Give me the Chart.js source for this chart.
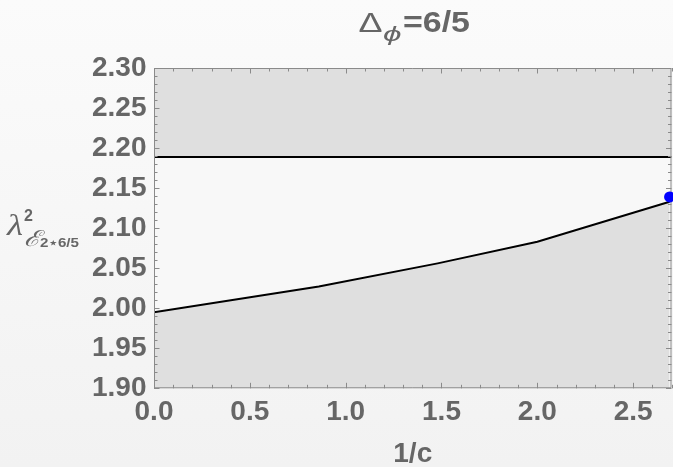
<!DOCTYPE html>
<html><head><meta charset="utf-8">
<script src="https://cdn.jsdelivr.net/npm/chart.js@4"></script>
<style>
html,body{margin:0;padding:0;width:673px;height:467px;overflow:hidden;background:linear-gradient(#fbfbfb,#f2f2f2)}
canvas{display:block}
</style></head><body>
<canvas id="c" width="673" height="467"></canvas>
<script>
// ---- data ----
const xValues = [0, 0.86, 1.48, 2.0, 2.69];
const curveValues = [1.995, 2.027, 2.056, 2.083, 2.133];
const boundX = [0, 2.7];
const boundValue = [2.189, 2.189];
const pointX = [2.69];
const pointY = [2.139];
const xTicks = [0, 0.5, 1.0, 1.5, 2.0, 2.5];
const yTicks = [1.90, 1.95, 2.00, 2.05, 2.10, 2.15, 2.20, 2.25, 2.30];
const xMin = 0, xMax = 2.7, yMin = 1.90, yMax = 2.30;
const titleMain = 'Δ', titleSub = 'ϕ', titleRest = '=6/5';
const yLabelMain = 'λ', yLabelSup = '2', yLabelSub = 'ℰ', yLabelSubSub = '2⋆6/5';
const xLabel = '1/c';

const GRAY = '#666666';
const FILL = '#dfdfdf';
const SANS = "'Liberation Sans','DejaVu Sans',Arial,sans-serif";
const SERIF = "'Liberation Serif','DejaVu Serif',serif";

function drawScaled(ctx, text, font, x, y, targetW) {
  ctx.save();
  ctx.font = font;
  const w = ctx.measureText(text).width;
  const sx = targetW ? targetW / w : 1;
  ctx.translate(x, y);
  ctx.scale(sx, 1);
  ctx.fillText(text, 0, 0);
  ctx.restore();
}

const decor = {
  id: 'decor',
  beforeDraw(chart) {
    const {ctx, chartArea: a} = chart;
    ctx.save();
    ctx.fillStyle = '#f8f8f8';
    ctx.fillRect(a.left, a.top, a.right - a.left, a.bottom - a.top);
    ctx.restore();
  },
  beforeDatasetDraw(chart, args) {
    if (args.index !== 0) return;
    const {ctx, chartArea: a, scales: {x, y}} = chart;
    ctx.save();
    ctx.strokeStyle = '#8a8a8a';
    ctx.lineWidth = 1;
    ctx.beginPath();
    ctx.rect(a.left + 0.5, a.top + 0.5, a.right - a.left - 1, a.bottom - a.top - 1);
    ctx.stroke();
    ctx.beginPath();
    for (let i = 0; i <= 27; i++) {
      const v = i / 10;
      const px = Math.round(x.getPixelForValue(v)) + 0.5;
      const len = (i % 5 === 0) ? 5.5 : 3.5;
      ctx.moveTo(px, a.bottom); ctx.lineTo(px, a.bottom - len);
      ctx.moveTo(px, a.top); ctx.lineTo(px, a.top + len);
    }
    for (let i = 0; i <= 40; i++) {
      const v = yMin + i / 100;
      const py = Math.round(y.getPixelForValue(v)) + 0.5;
      const len = (i % 5 === 0) ? 5.5 : 3.5;
      ctx.moveTo(a.left, py); ctx.lineTo(a.left + len, py);
      ctx.moveTo(a.right, py); ctx.lineTo(a.right - len, py);
    }
    ctx.stroke();
    ctx.restore();
  },
  afterDraw(chart) {
    const {ctx} = chart;
    ctx.save();
    ctx.fillStyle = GRAY;
    ctx.textBaseline = 'alphabetic';
    ctx.textAlign = 'left';
    drawScaled(ctx, titleMain, '28px ' + SANS, 358.5, 31.7, 24);
    drawScaled(ctx, titleSub, 'italic 21px ' + SANS, 383, 41, 18.5);
    drawScaled(ctx, titleRest, 'bold 29px ' + SANS, 403, 31.7, 67);
    drawScaled(ctx, yLabelMain, 'italic 30px ' + SERIF, 7, 235, 16);
    drawScaled(ctx, yLabelSup, 'bold 16px ' + SANS, 24, 221);
    drawScaled(ctx, yLabelSub, 'italic 22px ' + SERIF, 23.5, 245.5, 16);
    drawScaled(ctx, yLabelSubSub, 'bold 13px ' + SANS, 40, 246.5, 39);
    ctx.restore();
  }
};

new Chart(document.getElementById('c'), {
  type: 'scatter',
  data: {
    datasets: [
      {
        label: 'point',
        data: pointX.map((v, i) => ({x: v, y: pointY[i]})),
        backgroundColor: '#0000ff',
        borderColor: '#0000ff',
        pointRadius: 5.5,
        pointBorderWidth: 0,
        clip: false
      },
      {
        label: 'curve',
        data: xValues.map((v, i) => ({x: v, y: curveValues[i]})),
        showLine: true,
        borderColor: '#000000',
        borderWidth: 2,
        pointRadius: 0,
        fill: 'start',
        backgroundColor: FILL,
        tension: 0
      },
      {
        label: 'bound',
        data: boundX.map((v, i) => ({x: v, y: boundValue[i]})),
        showLine: true,
        borderColor: '#000000',
        borderWidth: 2,
        pointRadius: 0,
        fill: 'end',
        backgroundColor: FILL
      }
    ]
  },
  options: {
    responsive: false,
    animation: false,
    devicePixelRatio: 1,
    layout: {autoPadding: false, padding: {top: 68, right: 1.5, bottom: 0, left: 0}},
    plugins: {legend: {display: false}, tooltip: {enabled: false}, title: {display: false}},
    scales: {
      x: {
        type: 'linear',
        min: xMin, max: xMax,
        afterBuildTicks: s => { s.ticks = xTicks.map(v => ({value: v})); },
        afterFit: s => { s.height = 78.7; s.paddingLeft = 0; s.paddingRight = 0; },
        grid: {display: false, drawTicks: false},
        border: {display: false},
        ticks: {
          color: GRAY, padding: 7, maxRotation: 0, autoSkip: false,
          font: {family: SANS, size: 28, weight: 'bold'},
          callback: v => Number(v).toFixed(1)
        },
        title: {
          display: true, text: xLabel, color: GRAY,
          font: {family: SANS, size: 28, weight: 'bold', lineHeight: 0.9},
          padding: {top: 0, bottom: 0}
        }
      },
      y: {
        type: 'linear',
        min: yMin, max: yMax,
        afterBuildTicks: s => { s.ticks = yTicks.map(v => ({value: v})); },
        afterFit: s => { s.width = 154; s.paddingTop = 0; s.paddingBottom = 0; },
        grid: {display: false, drawTicks: false},
        border: {display: false},
        ticks: {
          color: GRAY, padding: 7.5, autoSkip: false,
          font: {family: SANS, size: 28, weight: 'bold'},
          callback: v => Number(v).toFixed(2)
        }
      }
    }
  },
  plugins: [decor]
});
</script>
</body></html>
